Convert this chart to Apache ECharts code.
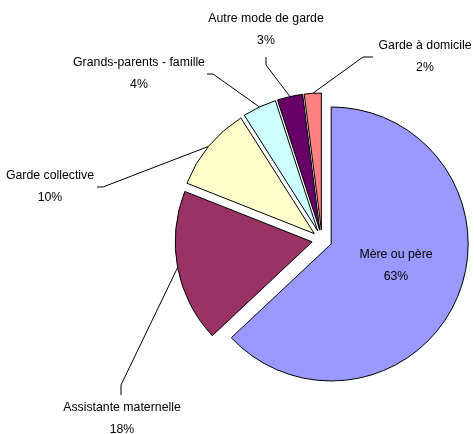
<!DOCTYPE html>
<html><head><meta charset="utf-8">
<script src="https://cdn.jsdelivr.net/npm/echarts@6/dist/echarts.min.js"></script>
<style>html,body{margin:0;padding:0;background:#fff}#c{width:474px;height:434px}</style>
</head><body><div id="c"></div>
<script>
const categories = ['Mère ou père','Assistante maternelle','Garde collective','Grands-parents - famille','Autre mode de garde','Garde à domicile'];
const shares = [63,18,10,4,3,2];
const colors = ['#9999FF','#993366','#FFFFCC','#CCFFFF','#660066','#FF8080'];
// label layout: centre x, middle y of each label, and leader line elbows
const labelPos = [[396,266],[122,419],[50,187],[139,74],[266,30],[425,57]];
const elbows = [null, [[121,385],[121,395]], [[103,187],[97,187]], [[213,74],[207,74]], [[266,65],[266,57]], [[363,57],[373,57]]];
const CX = 322, CY = 240, R = 137, OFF = 10;

const total = shares.reduce((a,b)=>a+b,0);
let cum = 0;
const mids = shares.map(v => { const m = (cum + v/2)/total*2*Math.PI; cum += v; return m; });

const chart = echarts.init(document.getElementById('c'), null, {renderer:'canvas'});
const series = categories.map((name, i) => {
  const m = mids[i];
  const cx = CX + OFF*Math.sin(m), cy = CY - OFF*Math.cos(m);
  const arcPt = [cx + R*Math.sin(m), cy - R*Math.cos(m)];
  return {
    type: 'pie',
    center: [cx, cy],
    radius: R,
    startAngle: 90,
    clockwise: true,
    animation: false,
    silent: true,
    avoidLabelOverlap: false,
    data: categories.map((n, j) => ({
      name: n,
      value: shares[j],
      itemStyle: j === i ? {color: colors[j], borderColor: '#000', borderWidth: 1}
                         : {color: 'rgba(0,0,0,0)', borderWidth: 0},
      label: {show: j === i},
      labelLine: {show: j === i && i !== 0}
    })),
    label: {
      position: i === 0 ? 'inside' : 'outside',
      formatter: '{b}\n{c}%',
      fontFamily: '"Liberation Sans", Arial, sans-serif',
      fontSize: 12.3,
      color: '#000',
      lineHeight: 22
    },
    labelLine: {lineStyle: {color: '#000', width: 1}},
    labelLayout: (p) => {
      const o = {x: labelPos[i][0], y: labelPos[i][1], align: 'center', verticalAlign: 'middle'};
      if (elbows[i]) o.labelLinePoints = [arcPt].concat(elbows[i]);
      return o;
    }
  };
});
chart.setOption({animation: false, backgroundColor: '#fff', series});
</script></body></html>
